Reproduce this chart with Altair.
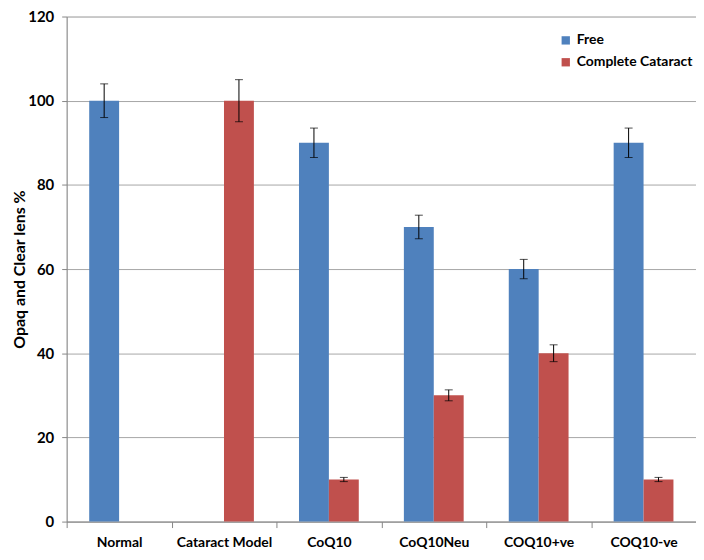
import altair as alt
import pandas as pd

categories = ["Normal", "Cataract Model", "CoQ10", "CoQ10Neu", "COQ10+ve", "COQ10-ve"]
series = ["Free", "Complete Cataract"]
free_vals = [100, None, 90, 70, 60, 90]
free_err = [4, None, 3.5, 2.8, 2.3, 3.5]
cat_vals = [None, 100, 10, 30, 40, 10]
cat_err = [None, 5, 0.5, 1.3, 2.0, 0.5]
colors = ["#4F81BD", "#C0504D"]

rows = []
for i, c in enumerate(categories):
    for s, v, e in ((series[0], free_vals[i], free_err[i]), (series[1], cat_vals[i], cat_err[i])):
        rows.append({"cat": c, "series": s, "value": v,
                     "lo": None if v is None else v - e,
                     "hi": None if v is None else v + e})
df = pd.DataFrame(rows)

W, H = 633, 508
step = W / len(categories)
FONT = "Lato"

xenc = alt.X("cat:N", sort=categories, title=None,
             scale=alt.Scale(paddingInner=0.43, paddingOuter=0.215),
             axis=alt.Axis(labelAngle=0, labelFont=FONT, labelFontWeight="bold",
                           labelFontSize=14, labelColor="#000", labelPadding=8,
                           domainColor="#868686", tickColor="#868686", tickSize=6,
                           tickOffset=-step / 2, labelOffset=step / 2))
xoff = alt.XOffset("series:N", sort=series, scale=alt.Scale(domain=series))

base = alt.Chart(df)
bars = base.mark_bar().encode(
    x=xenc, xOffset=xoff,
    y=alt.Y("value:Q", title="Opaq and Clear lens %",
            scale=alt.Scale(domain=[0, 120]),
            axis=alt.Axis(values=[0, 20, 40, 60, 80, 100, 120], labelFont=FONT,
                          labelFontWeight="bold", labelFontSize=15, labelColor="#000",
                          titleFont=FONT, titleFontSize=16, titleFontWeight="bold",
                          titleColor="#000", titlePadding=0, labelPadding=8,
                          gridColor="#A6A6A6", domainColor="#868686",
                          tickColor="#868686", tickSize=5)),
    color=alt.Color("series:N", sort=series,
                    scale=alt.Scale(domain=series, range=colors),
                    legend=alt.Legend(title=None, orient="none", legendX=495, legendY=17,
                                      symbolType="square", symbolSize=70,
                                      symbolStrokeWidth=0, labelFont=FONT,
                                      labelFontWeight="bold", labelFontSize=14,
                                      labelColor="#000", rowPadding=8)),
)
err = base.transform_filter("datum.value != null")
rule = err.mark_rule(color="#000", strokeWidth=1).encode(
    x=alt.X("cat:N", sort=categories), xOffset=xoff,
    y="lo:Q", y2="hi:Q")
tick_lo = err.mark_tick(color="#000", thickness=1, size=8).encode(
    x=alt.X("cat:N", sort=categories), xOffset=xoff, y="lo:Q")
tick_hi = err.mark_tick(color="#000", thickness=1, size=8).encode(
    x=alt.X("cat:N", sort=categories), xOffset=xoff, y="hi:Q")

chart = alt.layer(bars, rule, tick_lo, tick_hi).properties(
    width=W, height=H,
    autosize=alt.AutoSizeParams(type="none"),
    padding={"left": 59, "top": 7, "right": 0, "bottom": 29},
).configure_view(stroke=None).configure(background="white")

chart.save("out.html", embed_options={"renderer": "svg", "actions": False})
